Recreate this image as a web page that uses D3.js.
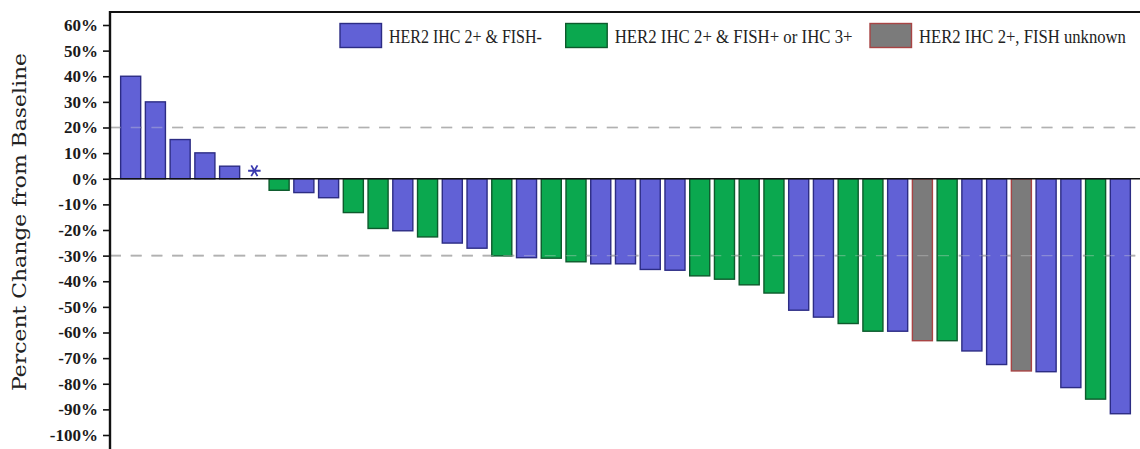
<!DOCTYPE html>
<html>
<head>
<meta charset="utf-8">
<script src="https://cdn.jsdelivr.net/npm/d3@7/dist/d3.min.js"></script>
<style>
  html, body { margin: 0; padding: 0; background: #fff; }
  svg { display: block; }
</style>
</head>
<body>
<svg id="chart" width="1140" height="449"></svg>
<script>
// Best percent change from baseline, one bar per patient (sorted)
const values = [
  40, 30, 15.3, 10.1, 4.9, 0, -4.5, -5.4, -7.4, -13.2,
  -19.4, -20.3, -22.7, -25.1, -27.1, -30.1, -30.8, -31.0, -32.4, -33.2,
  -33.2, -35.4, -35.7, -37.9, -39.2, -41.4, -44.6, -51.3, -54.0, -56.5,
  -59.5, -59.5, -63.2, -63.2, -67.2, -72.5, -75.0, -75.3, -81.5, -86.0,
  -91.7
];
// HER2 status group of each patient
const groups = [
  "neg", "neg", "neg", "neg", "neg", "neg", "pos", "neg", "neg", "pos",
  "pos", "neg", "pos", "neg", "neg", "pos", "neg", "pos", "pos", "neg",
  "neg", "neg", "neg", "pos", "pos", "pos", "pos", "neg", "neg", "pos",
  "pos", "neg", "unk", "pos", "neg", "neg", "unk", "neg", "neg", "pos",
  "neg"
];
// Patients flagged with an asterisk (index into values)
const starred = [5];

const groupKeys = ["neg", "pos", "unk"];
const groupLabels = ["HER2 IHC 2+ & FISH-", "HER2 IHC 2+ & FISH+ or IHC 3+", "HER2 IHC 2+, FISH unknown"];
const tickValues = [60, 50, 40, 30, 20, 10, 0, -10, -20, -30, -40, -50, -60, -70, -80, -90, -100];
const referenceLines = [20, -30];

const fills = { neg: "#6161d6", pos: "#0ba84f", unk: "#7b7b7b" };
const strokes = { neg: "#2c2c84", pos: "#0d5a2c", unk: "#a84444" };

const svg = d3.select("#chart");
const W = 1140, H = 449;
const plotLeft = 110, plotTop = 12;

const x = d3.scaleBand()
  .domain(d3.range(values.length))
  .range([plotLeft, 1141])
  .paddingInner(0.19)
  .paddingOuter(0.43);

const y = d3.scaleLinear().domain([-100, 60]).range([435, 25]);

// reference lines beneath bars
svg.append("g").selectAll("line").data(referenceLines).join("line")
  .attr("x1", plotLeft).attr("x2", 1136)
  .attr("y1", d => y(d)).attr("y2", d => y(d))
  .attr("stroke", "#9d9d9d").attr("stroke-width", 1.6)
  .attr("stroke-dasharray", "11,9.7");

// bars
svg.append("g").selectAll("rect").data(values).join("rect")
  .attr("x", (d, i) => x(i))
  .attr("width", x.bandwidth())
  .attr("y", d => y(Math.max(0, d)))
  .attr("height", d => Math.abs(y(d) - y(0)))
  .attr("fill", (d, i) => fills[groups[i]])
  .attr("stroke", (d, i) => strokes[groups[i]])
  .attr("stroke-width", 1.4);

// faint reference lines over the bars
svg.append("g").selectAll("line").data(referenceLines).join("line")
  .attr("x1", plotLeft).attr("x2", 1136)
  .attr("y1", d => y(d)).attr("y2", d => y(d))
  .attr("stroke", "#d6d6d6").attr("stroke-width", 1.4).attr("opacity", 0.35)
  .attr("stroke-dasharray", "11,9.7");

// asterisk markers
svg.append("g").selectAll("path").data(starred).join("path")
  .attr("d", d3.symbol(d3.symbolAsterisk, 110)())
  .attr("transform", i => `translate(${x(i) + x.bandwidth() / 2},${y(values[i]) - 8}) rotate(90)`)
  .attr("stroke", "#3a3ab0").attr("stroke-width", 1.8).attr("fill", "none");

// zero line
svg.append("line")
  .attr("x1", plotLeft).attr("x2", W)
  .attr("y1", y(0)).attr("y2", y(0))
  .attr("stroke", "#111").attr("stroke-width", 1.6);

// top frame line
svg.append("line")
  .attr("x1", plotLeft - 1).attr("x2", W)
  .attr("y1", plotTop).attr("y2", plotTop)
  .attr("stroke", "#111").attr("stroke-width", 2);

// y axis
const yAxis = d3.axisLeft(y)
  .tickValues(tickValues)
  .tickFormat(d => d + "%")
  .tickSize(7)
  .tickPadding(5);

const ag = svg.append("g").attr("transform", `translate(${plotLeft},0)`).call(yAxis);
ag.select(".domain").remove();
ag.selectAll(".tick line").attr("stroke", "#111").attr("stroke-width", 1.6);
ag.selectAll(".tick text")
  .attr("font-family", "'Liberation Serif', 'Times New Roman', serif")
  .attr("font-size", 17)
  .attr("font-weight", "bold")
  .attr("fill", "#1a1a1a");

svg.append("line")
  .attr("x1", plotLeft).attr("x2", plotLeft)
  .attr("y1", plotTop - 1).attr("y2", H)
  .attr("stroke", "#111").attr("stroke-width", 2.4);

// y axis title
svg.append("text")
  .attr("transform", `translate(26,222) rotate(-90)`)
  .attr("text-anchor", "middle")
  .attr("font-family", "'DejaVu Serif', serif")
  .attr("font-size", 18.5)
  .attr("fill", "#222")
  .attr("textLength", 338)
  .attr("lengthAdjust", "spacingAndGlyphs")
  .text("Percent Change from Baseline");

// legend (labels set in a condensed serif)
const legendX = [340, 565.7, 870];
const legendTextW = [153, 238, 207];
const lg = svg.append("g");
groupKeys.forEach((k, i) => {
  lg.append("rect")
    .attr("x", legendX[i]).attr("y", 23.5)
    .attr("width", 41.5).attr("height", 24)
    .attr("fill", fills[k]).attr("stroke", strokes[k]).attr("stroke-width", 1.4);
  const t = lg.append("text")
    .attr("font-family", "'Liberation Serif', 'Times New Roman', serif")
    .attr("font-size", 19)
    .attr("fill", "#222")
    .text(groupLabels[i]);
  const natural = t.node().getComputedTextLength();
  t.attr("transform", `translate(${legendX[i] + 49},43.3) scale(${legendTextW[i] / natural},1)`);
});
</script>
</body>
</html>
